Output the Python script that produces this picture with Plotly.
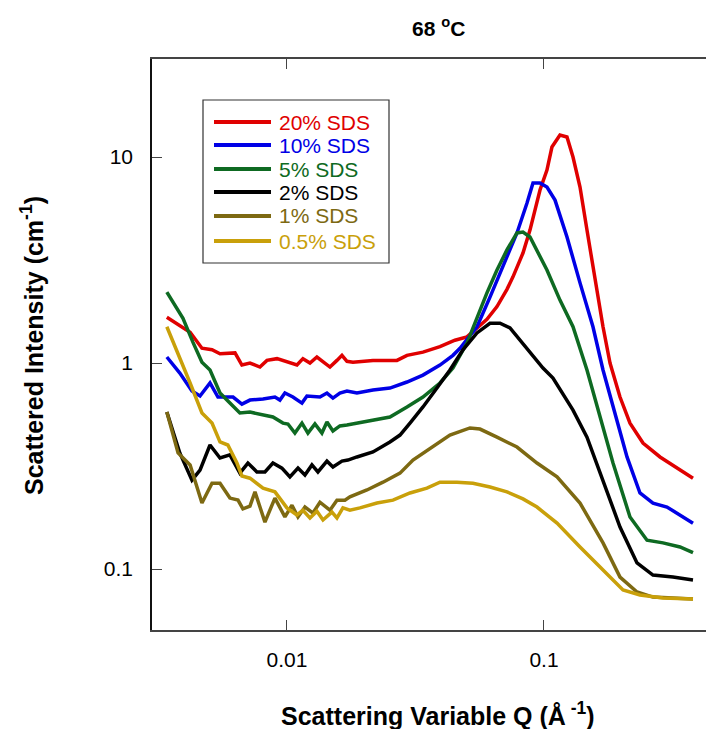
import plotly.graph_objects as go

# ---------------- data ----------------
series_names = ["20% SDS", "10% SDS", "5% SDS", "2% SDS", "1% SDS", "0.5% SDS"]
series_colors = ["#e00000", "#0000e6", "#0e6a22", "#000000", "#7d6912", "#c9a00a"]

q_20 = [0.00341, 0.00420, 0.00467, 0.00511, 0.00549, 0.00628, 0.00668, 0.00718, 0.00785, 0.00836,
        0.00915, 0.0100, 0.01094, 0.01154, 0.01229, 0.01308, 0.01381, 0.0147, 0.01565, 0.01637,
        0.01712, 0.01806, 0.02161, 0.02679, 0.02931, 0.03382, 0.03938, 0.04505, 0.05016, 0.05487,
        0.0600, 0.06564, 0.07178, 0.07575, 0.08285, 0.08822, 0.0965, 0.1027, 0.1074, 0.1154, 0.1229,
        0.1297, 0.1381, 0.147, 0.1579, 0.1697, 0.1807, 0.1976, 0.2161, 0.2428, 0.2828, 0.3292, 0.38]
I_20 = [1.67, 1.41, 1.18, 1.16, 1.11, 1.12, 0.978, 1.00, 0.956, 1.03,
        1.05, 1.01, 0.978, 1.05, 1.00, 1.07, 1.02, 0.956, 1.03, 1.09,
        1.02, 1.01, 1.03, 1.03, 1.09, 1.13, 1.20, 1.29, 1.34, 1.47,
        1.63, 1.88, 2.28, 2.62, 3.42, 4.42, 6.92, 8.65, 11.18, 12.79, 12.51,
        10.0, 7.15, 4.42, 2.53, 1.50, 1.00, 0.684, 0.511, 0.409, 0.350, 0.309, 0.276]

q_10 = [0.00341, 0.00383, 0.00427, 0.00459, 0.00502, 0.00539, 0.00617, 0.00668, 0.00718, 0.00807,
        0.00898, 0.00939, 0.00982, 0.01055, 0.01144, 0.01196, 0.01344, 0.01431, 0.0151, 0.01607,
        0.01712, 0.01872, 0.02161, 0.02516, 0.02931, 0.03382, 0.03938, 0.04425, 0.04713, 0.05487,
        0.06165, 0.06927, 0.07851, 0.0859, 0.09063, 0.0965, 0.1027, 0.1104, 0.1229,
        0.1381, 0.1551, 0.1697, 0.1856, 0.2104, 0.2363, 0.2655, 0.301, 0.3382, 0.38]
I_10 = [1.07, 0.894, 0.731, 0.692, 0.800, 0.684, 0.684, 0.632, 0.661, 0.669,
        0.684, 0.661, 0.715, 0.684, 0.639, 0.692, 0.684, 0.715, 0.676, 0.715,
        0.731, 0.715, 0.740, 0.756, 0.809, 0.874, 0.978, 1.09, 1.18, 1.50,
        2.09, 2.92, 4.28, 5.98, 7.48, 7.48, 7.15, 6.18, 4.09,
        2.45, 1.50, 0.925, 0.612, 0.350, 0.234, 0.209, 0.200, 0.183, 0.167]

q_5 = [0.00341, 0.00394, 0.00431, 0.00467, 0.00502, 0.00549, 0.00600, 0.00656, 0.00718, 0.00807,
       0.00882, 0.00965, 0.01009, 0.01074, 0.01144, 0.01207, 0.01285, 0.01368, 0.01431, 0.0151,
       0.01607, 0.01712, 0.01872, 0.02161, 0.02516, 0.02931, 0.03382, 0.03938, 0.04425, 0.05016,
       0.05487, 0.0600, 0.06564, 0.07178, 0.07851, 0.08285, 0.08822, 0.09393, 0.1027, 0.1154,
       0.1297, 0.147, 0.1652, 0.1856, 0.2161, 0.2517, 0.2904, 0.3382, 0.38]
I_5 = [2.21, 1.65, 1.26, 1.01, 0.925, 0.715, 0.639, 0.572, 0.578, 0.559,
       0.547, 0.511, 0.506, 0.457, 0.511, 0.457, 0.506, 0.457, 0.517, 0.468,
       0.495, 0.500, 0.511, 0.529, 0.547, 0.612, 0.684, 0.800, 0.946, 1.25,
       1.67, 2.19, 2.83, 3.54, 4.28, 4.32, 4.09, 3.54, 2.83, 2.02,
       1.50, 0.925, 0.547, 0.327, 0.179, 0.138, 0.134, 0.128, 0.120]

q_2 = [0.00341, 0.00383, 0.00427, 0.00459, 0.00502, 0.00549, 0.00600, 0.00656, 0.00705, 0.00764,
       0.00821, 0.00882, 0.00956, 0.01027, 0.01104, 0.01175, 0.01251, 0.0132, 0.01431, 0.0151,
       0.01637, 0.01727, 0.01872, 0.02161, 0.02516, 0.02753, 0.03011, 0.03382, 0.03834, 0.04307,
       0.04839, 0.05487, 0.06165, 0.06743, 0.07374, 0.08065, 0.08822, 0.09911, 0.1084, 0.1297,
       0.147, 0.1697, 0.1976, 0.2301, 0.2655, 0.3176, 0.38]
I_2 = [0.578, 0.366, 0.270, 0.302, 0.400, 0.346, 0.358, 0.292, 0.327, 0.296,
       0.296, 0.327, 0.309, 0.280, 0.309, 0.286, 0.320, 0.296, 0.334, 0.313,
       0.334, 0.338, 0.350, 0.370, 0.414, 0.447, 0.511, 0.612, 0.756, 0.925,
       1.16, 1.40, 1.56, 1.56, 1.48, 1.29, 1.13, 0.946, 0.846, 0.591,
       0.437, 0.270, 0.160, 0.107, 0.0935, 0.0914, 0.0885]

q_1 = [0.00341, 0.00377, 0.00420, 0.00467, 0.00511, 0.00549, 0.00600, 0.00645, 0.00674, 0.00718,
       0.00751, 0.00821, 0.00898, 0.00982, 0.01046, 0.01104, 0.01175, 0.01262, 0.01344, 0.0147,
       0.01565, 0.01681, 0.01758, 0.02048, 0.02364, 0.02753, 0.03093, 0.03699, 0.04307, 0.05153,
       0.05636, 0.06564, 0.07851, 0.09393, 0.1124, 0.1381, 0.1697, 0.1976, 0.2301, 0.2655,
       0.3176, 0.38]
I_1 = [0.578, 0.366, 0.320, 0.209, 0.261, 0.261, 0.221, 0.216, 0.196, 0.202,
       0.237, 0.169, 0.221, 0.179, 0.204, 0.179, 0.200, 0.187, 0.211, 0.193,
       0.216, 0.216, 0.224, 0.242, 0.264, 0.292, 0.338, 0.391, 0.447, 0.484,
       0.478, 0.437, 0.391, 0.327, 0.280, 0.209, 0.134, 0.0914, 0.0774, 0.0731,
       0.0723, 0.0715]

q_05 = [0.00341, 0.00377, 0.00420, 0.00467, 0.00511, 0.00549, 0.00589, 0.00639, 0.00668, 0.00718,
        0.00807, 0.00898, 0.0100, 0.01094, 0.01154, 0.01229, 0.01308, 0.01381, 0.01496, 0.01565,
        0.01651, 0.01758, 0.01923, 0.0224, 0.02585, 0.03011, 0.03505, 0.03938, 0.04586, 0.05293,
        0.06165, 0.07178, 0.08285, 0.09393, 0.1124, 0.1381, 0.1697, 0.203, 0.2363, 0.2904, 0.38]
I_05 = [1.50, 1.12, 0.800, 0.572, 0.511, 0.414, 0.400, 0.327, 0.283, 0.276,
        0.247, 0.237, 0.198, 0.183, 0.193, 0.177, 0.191, 0.173, 0.189, 0.177,
        0.198, 0.193, 0.198, 0.209, 0.216, 0.234, 0.247, 0.264, 0.264, 0.261,
        0.250, 0.237, 0.219, 0.200, 0.167, 0.128, 0.0989, 0.0791, 0.0748, 0.0723, 0.0715]

x_tick_vals = [0.01, 0.1]
x_tick_text = ["0.01", "0.1"]
y_tick_vals = [0.1, 1, 10]
y_tick_text = ["0.1", "1", "10"]

title_text = "68 <sup>o</sup>C"
x_title = "Scattering Variable Q (Å<sup> -1</sup>)"
y_title = "Scattered Intensity (cm<sup>-1</sup>)"

# ---------------- figure ----------------
FONT = "Liberation Sans, Arial, Helvetica, sans-serif"
series_q = [q_20, q_10, q_5, q_2, q_1, q_05]
series_I = [I_20, I_10, I_5, I_2, I_1, I_05]

# page body has an 8px margin: plot area spans 152..714 (x) and 59..630 (y) on screen
BODY = 8
PL, PR, PT, PB = 152, 714, 59, 630
W, H = 714 - BODY, 729 - BODY
PW, PH = PR - PL, PB - PT


def px(xp):
    return (xp - PL) / PW


def py(yp):
    return (PB - yp) / PH


fig = go.Figure()
for name, color, q, I in zip(series_names, series_colors, series_q, series_I):
    fig.add_trace(go.Scatter(
        x=q, y=I, mode="lines", line=dict(color=color, width=3.5),
        name=name, showlegend=False,
    ))

annotations = [
    dict(text=title_text, x=px(438), y=py(27), xref="paper", yref="paper",
         xanchor="center", yanchor="middle", showarrow=False,
         font=dict(family=FONT, size=21, color="black", weight="bold")),
    dict(text=x_title, x=px(438), y=py(714), xref="paper", yref="paper",
         xanchor="center", yanchor="middle", showarrow=False,
         font=dict(family=FONT, size=25, color="black", weight="bold")),
    dict(text=y_title, x=px(32), y=py(346), xref="paper", yref="paper",
         xanchor="center", yanchor="middle", showarrow=False, textangle=-90,
         font=dict(family=FONT, size=25, color="black", weight="bold")),
]

# legend box drawn in paper coordinates
shapes = [dict(type="rect", xref="paper", yref="paper",
               x0=px(203), x1=px(389), y0=py(263), y1=py(100),
               line=dict(color="#333", width=1.2), fillcolor="white", layer="above")]
row_y = [122, 145, 169, 192, 216, 241]
for name, color, ry in zip(series_names, series_colors, row_y):
    shapes.append(dict(type="line", xref="paper", yref="paper",
                       x0=px(214), x1=px(271), y0=py(ry), y1=py(ry),
                       line=dict(color=color, width=4), layer="above"))
    annotations.append(dict(text=name, x=px(277), y=py(ry), xref="paper", yref="paper",
                            xanchor="left", yanchor="middle", showarrow=False,
                            font=dict(family=FONT, size=21, color=color)))

fig.update_layout(
    width=W, height=H,
    margin=dict(l=PL - BODY, r=0, t=PT - BODY, b=H - (PB - BODY), pad=0),
    paper_bgcolor="white", plot_bgcolor="white",
    font=dict(family=FONT, color="black"),
    showlegend=False,
    annotations=annotations,
    shapes=shapes,
)

fig.update_xaxes(
    type="log", range=[-2.525, -0.3385],
    showgrid=False, zeroline=False,
    showline=True, linecolor="#444", linewidth=1.5, mirror="ticks",
    ticks="inside", ticklen=10, tickwidth=1.2, tickcolor="#444",
    tickvals=x_tick_vals, ticktext=x_tick_text,
    tickfont=dict(family=FONT, size=21, color="black"),
    ticklabelstandoff=10,
)
fig.update_yaxes(
    type="log", range=[-1.296, 1.476],
    showgrid=False, zeroline=False,
    showline=True, linecolor="#111", linewidth=1.5, mirror=False,
    ticks="inside", ticklen=10, tickwidth=1.2, tickcolor="#444",
    tickvals=y_tick_vals, ticktext=y_tick_text,
    tickfont=dict(family=FONT, size=21, color="black"),
    ticklabelstandoff=13,
)

fig.write_html("out.html")
